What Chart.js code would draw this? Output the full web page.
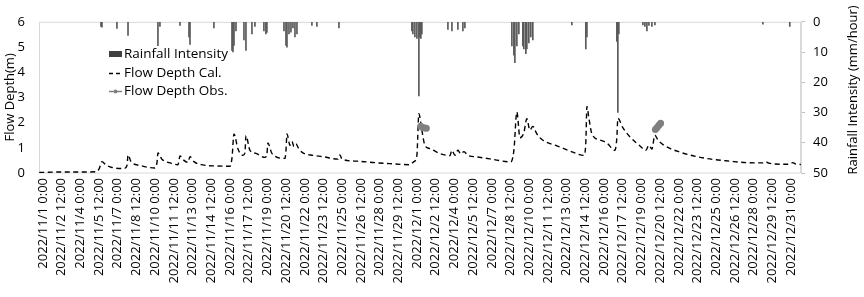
<!DOCTYPE html>
<html>
<head>
  <title>Flow Depth and Rainfall Intensity</title>
  <style>
    body { margin: 0; background: #fff; }
    #chart { display: block; }
  </style>
</head>
<body>
  <canvas id="chart" width="864" height="297"></canvas>
  <script src="https://cdn.jsdelivr.net/npm/chart.js"></script>
  <script>
    // x values are days counted from 2022/11/1 0:00, one tick label every 1.5 days
    const tickLabels = [
      '2022/11/1 0:00', '2022/11/2 12:00', '2022/11/4 0:00', '2022/11/5 12:00',
      '2022/11/7 0:00', '2022/11/8 12:00', '2022/11/10 0:00', '2022/11/11 12:00',
      '2022/11/13 0:00', '2022/11/14 12:00', '2022/11/16 0:00', '2022/11/17 12:00',
      '2022/11/19 0:00', '2022/11/20 12:00', '2022/11/22 0:00', '2022/11/23 12:00',
      '2022/11/25 0:00', '2022/11/26 12:00', '2022/11/28 0:00', '2022/11/29 12:00',
      '2022/12/1 0:00', '2022/12/2 12:00', '2022/12/4 0:00', '2022/12/5 12:00',
      '2022/12/7 0:00', '2022/12/8 12:00', '2022/12/10 0:00', '2022/12/11 12:00',
      '2022/12/13 0:00', '2022/12/14 12:00', '2022/12/16 0:00', '2022/12/17 12:00',
      '2022/12/19 0:00', '2022/12/20 12:00', '2022/12/22 0:00', '2022/12/23 12:00',
      '2022/12/25 0:00', '2022/12/26 12:00', '2022/12/28 0:00', '2022/12/29 12:00',
      '2022/12/31 0:00'
    ];

    // Flow Depth Cal. (m)
    const flowDays = [
      -0.3, 1.36, 2.97, 4.25, 4.49, 4.73, 5.05, 5.53, 6.5, 6.74,
      6.82, 7.06, 7.78, 8.98, 9.14, 9.22, 9.54, 10.18, 10.83, 10.99,
      11.31, 11.63, 11.79, 12.11, 12.83, 13.79, 15.0, 15.16, 15.32, 15.64,
      16.04, 16.2, 16.28, 16.6, 17.08, 17.8, 17.96, 18.04, 18.36, 19.41,
      19.49, 19.57, 19.81, 19.97, 20.13, 20.29, 20.53, 20.85, 21.65, 22.45,
      23.66, 23.82, 23.98, 25.18, 26.62, 27.83, 29.43, 29.75, 29.99, 30.15,
      30.39, 30.63, 31.03, 31.84, 32.64, 32.8, 33.04, 33.28, 33.52, 33.76,
      34.08, 34.8, 35.85, 37.53, 37.77, 38.01, 38.26, 38.57, 38.81, 39.05,
      39.29, 39.61, 40.1, 41.22, 42.5, 43.38, 43.54, 43.63, 43.79, 44.03,
      44.67, 45.23, 45.87, 46.03, 46.11, 46.51, 47.07, 47.87, 48.36, 48.6,
      48.84, 49.08, 49.32, 49.88, 51.08, 52.45, 53.73, 55.09, 56.46, 57.74,
      57.98, 58.22, 59.1, 59.9, 60.14, 60.39, 60.79
    ];
    const flowDepth = [
      0.02, 0.04, 0.04, 0.05, 0.15, 0.45, 0.32, 0.22, 0.18, 0.3,
      0.72, 0.45, 0.3, 0.2, 0.4, 0.8, 0.55, 0.4, 0.33, 0.68,
      0.5, 0.42, 0.65, 0.45, 0.32, 0.28, 0.27, 0.6, 1.55, 0.95,
      0.7, 0.8, 1.48, 0.9, 0.78, 0.62, 0.75, 1.19, 0.78, 0.58,
      0.9, 1.55, 1.1, 1.25, 1.05, 1.15, 0.95, 0.8, 0.7, 0.65,
      0.55, 0.72, 0.55, 0.47, 0.41, 0.37, 0.33, 0.45, 0.7, 2.35,
      1.7, 1.1, 0.97, 0.77, 0.69, 0.9, 0.7, 0.9, 0.75, 0.85,
      0.7, 0.64, 0.56, 0.44, 0.9, 2.42, 1.4, 1.6, 2.15, 1.7,
      1.85, 1.55, 1.3, 1.08, 0.83, 0.7, 1.2, 2.64, 2.17, 1.55,
      1.31, 1.19, 0.9, 1.4, 2.17, 1.8, 1.44, 1.08, 0.9, 1.1,
      0.95, 1.5, 1.31, 1.08, 0.83, 0.65, 0.54, 0.47, 0.41, 0.4,
      0.44, 0.39, 0.35, 0.35, 0.41, 0.35, 0.34
    ];

    // Flow Depth Obs. (m)
    const obsDays = [30.3, 30.45, 30.6, 30.75, 49.12, 49.26, 49.4, 49.54];
    const obsDepth = [1.86, 1.81, 1.79, 1.78, 1.73, 1.81, 1.89, 1.97];

    // Rainfall Intensity (mm/hour)
    const rainDays = [
      4.65, 4.73, 5.93, 6.82, 9.22, 9.38, 10.99, 11.71, 11.79, 13.71,
      15.16, 15.24, 15.32, 15.48, 16.12, 16.28, 16.76, 17.0, 17.72, 17.88,
      17.96, 19.33, 19.49, 19.57, 19.73, 19.89, 20.05, 20.21, 20.37, 21.57,
      21.97, 23.74, 29.59, 29.67, 29.83, 29.99, 30.15, 30.23, 30.31, 30.39,
      32.48, 32.8, 33.28, 33.68, 33.84, 37.61, 37.77, 37.85, 38.01, 38.17,
      38.49, 38.57, 38.73, 38.81, 38.97, 39.13, 39.29, 42.42, 43.54, 43.63,
      46.03, 46.11, 46.19, 48.12, 48.28, 48.44, 48.6, 48.84, 49.08, 57.74,
      59.9
    ];
    const rainIntensity = [
      1.5, 1.8, 2.2, 4.5, 7.9, 1.5, 1.2, 5, 7.5, 2,
      9.5, 10, 7.8, 3, 6, 9.5, 4, 1.5, 3, 4,
      3.5, 3, 7.8, 8.4, 4, 3.4, 2, 5, 4, 1.2,
      1.5, 2, 3, 4, 5, 5.5, 24.5, 5, 5.5, 4,
      2.5, 3, 2.5, 3, 2, 8, 11, 13.5, 8, 4,
      8, 9, 10.5, 9, 7, 5, 6, 1, 9, 5,
      6.5, 30, 4, 1, 1.5, 3, 1.2, 1.5, 1, 0.8,
      1.5
    ];

    Chart.defaults.font.family = "'Open Sans', sans-serif";
    Chart.defaults.font.size = 13;
    Chart.defaults.color = '#000';

    // plot frame, legend and right-hand title (reads bottom to top)
    const frameAndLegend = {
      id: 'frameAndLegend',
      beforeDatasetsDraw(chart) {
        const { ctx, chartArea: a } = chart;
        ctx.save();
        ctx.strokeStyle = '#d9d9d9';
        ctx.lineWidth = 1;
        ctx.strokeRect(a.left + 0.5, a.top + 0.5, a.right - a.left - 1, a.bottom - a.top - 0.5);
        ctx.restore();
      },
      afterDraw(chart) {
        const ctx = chart.ctx;
        ctx.save();
        ctx.font = "13.5px 'Open Sans', sans-serif";
        ctx.fillStyle = '#000';
        ctx.textBaseline = 'middle';

        ctx.fillStyle = '#404040';
        ctx.fillRect(109, 51, 13, 6);
        ctx.fillStyle = '#000';
        ctx.fillText('Rainfall Intensity', 124, 54);

        ctx.strokeStyle = '#000';
        ctx.lineWidth = 1.4;
        ctx.setLineDash([4, 3]);
        ctx.beginPath();
        ctx.moveTo(109, 73.5);
        ctx.lineTo(122, 73.5);
        ctx.stroke();
        ctx.setLineDash([]);
        ctx.fillText('Flow Depth Cal.', 124, 73);

        ctx.strokeStyle = '#808080';
        ctx.lineWidth = 1.5;
        ctx.beginPath();
        ctx.moveTo(109, 91.5);
        ctx.lineTo(122, 91.5);
        ctx.stroke();
        ctx.fillStyle = '#808080';
        ctx.beginPath();
        ctx.arc(115.5, 91.5, 2, 0, Math.PI * 2);
        ctx.fill();
        ctx.fillStyle = '#000';
        ctx.fillText('Flow Depth Obs.', 124, 91);

        ctx.font = "13px 'Open Sans', sans-serif";
        ctx.textAlign = 'center';
        ctx.translate(853, 90);
        ctx.rotate(-Math.PI / 2);
        ctx.fillText('Rainfall Intensity (mm/hour)', 0, 0);
        ctx.restore();
      }
    };

    const ctx = document.getElementById('chart').getContext('2d');
    const chart = new Chart(ctx, {
      type: 'line',
      data: {
        datasets: [
          {
            label: 'Flow Depth Obs.',
            data: obsDays.map((d, i) => ({ x: d, y: obsDepth[i] })),
            yAxisID: 'y',
            borderColor: '#808080',
            backgroundColor: '#808080',
            borderWidth: 3,
            pointRadius: 2,
            segment: {
              borderColor: c => (c.p1.parsed.x - c.p0.parsed.x > 1 ? 'rgba(0,0,0,0)' : '#808080')
            },
            order: 1
          },
          {
            label: 'Flow Depth Cal.',
            data: flowDays.map((d, i) => ({ x: d, y: flowDepth[i] })),
            yAxisID: 'y',
            borderColor: '#000',
            borderWidth: 1.4,
            borderDash: [5, 3.5],
            pointRadius: 0,
            cubicInterpolationMode: 'monotone',
            order: 2
          },
          {
            type: 'bar',
            label: 'Rainfall Intensity',
            data: rainDays.map((d, i) => ({ x: d, y: rainIntensity[i] })),
            yAxisID: 'y2',
            backgroundColor: '#595959',
            barThickness: 1,
            grouped: false,
            order: 3
          }
        ]
      },
      options: {
        responsive: false,
        animation: false,
        layout: { padding: { top: 7, left: 0, right: 0, bottom: 0 } },
        plugins: {
          legend: { display: false },
          tooltip: { enabled: false }
        },
        scales: {
          x: {
            type: 'linear',
            min: -0.32,
            max: 60.8,
            offset: false,
            afterFit: s => { s.height = 124; },
            afterBuildTicks: s => { s.ticks = tickLabels.map((t, i) => ({ value: i * 1.5 })); },
            grid: { display: false, drawTicks: false },
            border: { display: false },
            ticks: {
              autoSkip: false,
              minRotation: 90,
              maxRotation: 90,
              padding: 5,
              callback: (v, i) => tickLabels[i]
            }
          },
          y: {
            position: 'left',
            min: 0,
            max: 6,
            afterFit: s => { s.width = 39; },
            grid: { display: false, drawTicks: false },
            border: { display: false },
            ticks: { stepSize: 1, padding: 14 },
            title: { display: true, text: 'Flow Depth(m)', padding: { top: 2, bottom: 0 } }
          },
          y2: {
            position: 'right',
            min: 0,
            max: 50,
            reverse: true,
            afterFit: s => { s.width = 63; },
            grid: { drawOnChartArea: false, drawTicks: true, tickLength: 4, color: '#bfbfbf' },
            border: { display: true, color: '#d9d9d9' },
            ticks: { stepSize: 10, padding: 8 }
          }
        }
      },
      plugins: [frameAndLegend]
    });
  </script>
</body>
</html>
